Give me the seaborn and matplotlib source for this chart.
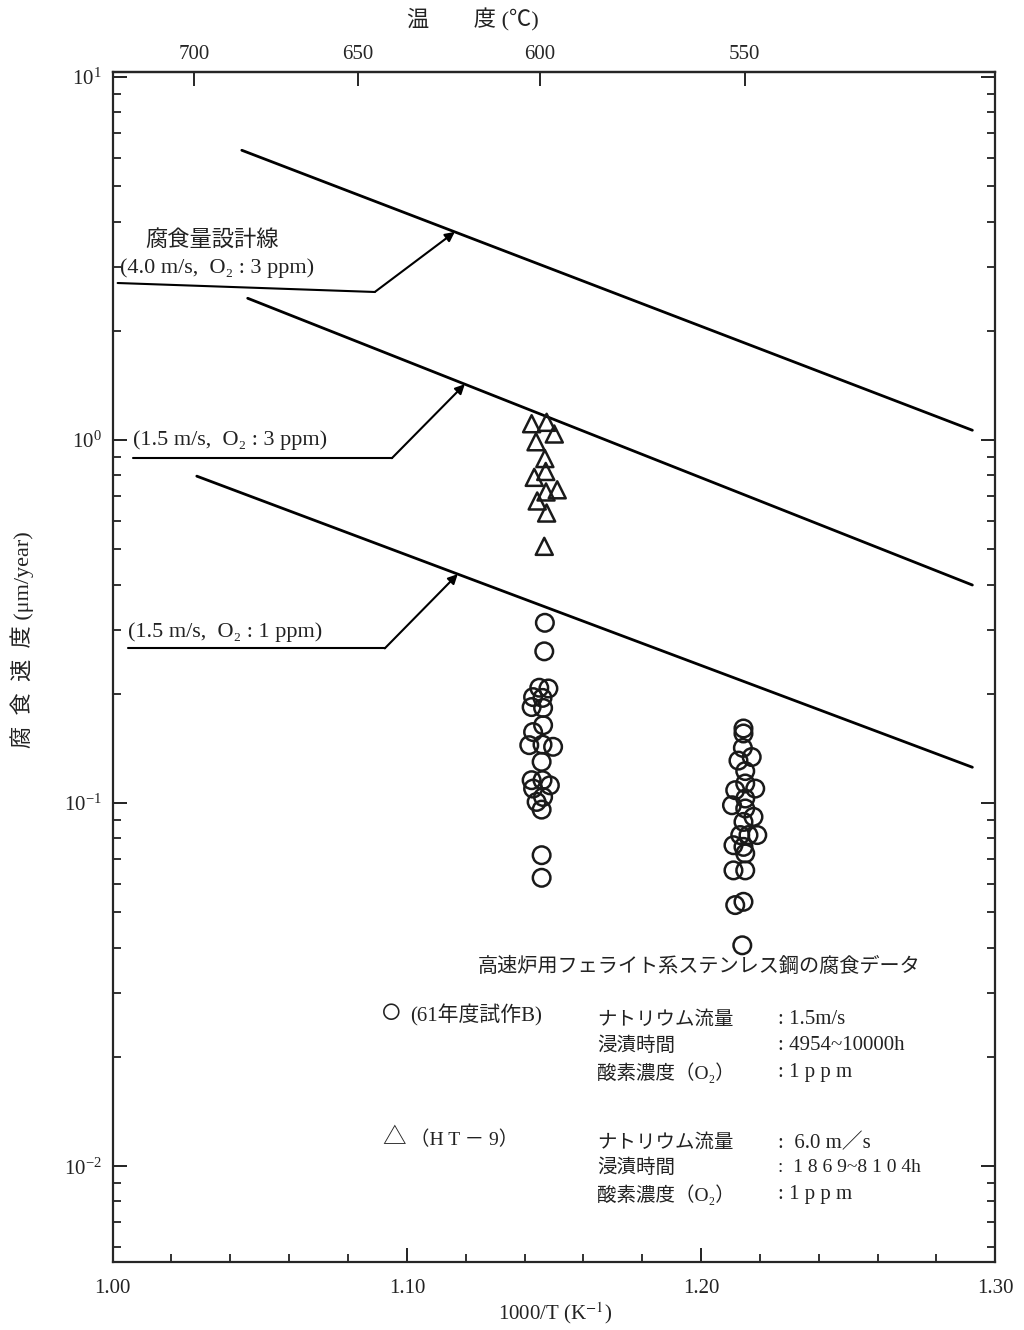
import numpy as np
import pandas as pd
import matplotlib
matplotlib.use("Agg")
import matplotlib.pyplot as plt
from matplotlib.ticker import LogLocator, MultipleLocator, NullFormatter
import seaborn as sns

# --- data ---
# design lines: (1000/T, corrosion rate) at both ends
line_names = ["4.0 m/s, O2 3ppm", "1.5 m/s, O2 3ppm", "1.5 m/s, O2 1ppm"]
line_x = [[1.0439, 1.2922], [1.0459, 1.2922], [1.0286, 1.2922]]
line_y = [[6.29, 1.065], [2.46, 0.399], [0.796, 0.1256]]

# HT-9 (triangles)
tri_x = [1.1424, 1.1475, 1.1501, 1.1439, 1.1469, 1.1472, 1.1433, 1.1473,
         1.1511, 1.1443, 1.1475, 1.1467]
tri_y = [1.11, 1.12, 1.04, 0.99, 0.89, 0.82, 0.79, 0.72, 0.73, 0.68, 0.63, 0.51]

# 61年度試作B (circles), 600C group
c1_x = [1.1469, 1.1467, 1.1450, 1.1481, 1.1429, 1.1461, 1.1424, 1.1463,
        1.1463, 1.1429, 1.1416, 1.1461, 1.1497, 1.1458, 1.1424, 1.1461,
        1.1486, 1.1429, 1.1441, 1.1463, 1.1458, 1.1458, 1.1458]
c1_y = [0.314, 0.262, 0.208, 0.207, 0.196, 0.195, 0.184, 0.183, 0.164, 0.157,
        0.1445, 0.145, 0.143, 0.130, 0.1157, 0.1157, 0.112, 0.1097, 0.1008,
        0.104, 0.096, 0.0719, 0.0623]
# 550C group
c2_x = [1.2144, 1.2144, 1.2142, 1.2127, 1.2172, 1.2150, 1.2150, 1.2116,
        1.2184, 1.2150, 1.2105, 1.2150, 1.2178, 1.2144, 1.2133, 1.2161,
        1.2191, 1.2110, 1.2144, 1.2150, 1.2110, 1.2150, 1.2116, 1.2144,
        1.2140]
c2_y = [0.1606, 0.1556, 0.142, 0.131, 0.134, 0.1226, 0.1133, 0.1086, 0.1097,
        0.103, 0.0987, 0.0967, 0.0917, 0.0888, 0.0817, 0.0817, 0.0817, 0.0766,
        0.0758, 0.0727, 0.0653, 0.0653, 0.0524, 0.0535, 0.0406]

line_labels = [["腐食量設計線", "(4.0 m/s,  O₂ : 3 ppm)"],
               ["(1.5 m/s,  O₂ : 3 ppm)"],
               ["(1.5 m/s,  O₂ : 1 ppm)"]]
temp_ticks = [700, 650, 600, 550]

# --- style ---
sns.set_theme(style="ticks")
plt.rcParams['font.family'] = ['Liberation Serif', 'Noto Sans CJK JP', 'DejaVu Sans']
plt.rcParams['mathtext.fontset'] = 'stix'
plt.rcParams['axes.linewidth'] = 1.6
plt.rcParams['text.color'] = '#222222'

fig = plt.figure(figsize=(10.24, 13.3), dpi=100)
ax = fig.add_axes([0.110, 0.0511, 0.862, 0.8947])
ax.set_yscale('log')

# design lines
for xs, ys in zip(line_x, line_y):
    sns.lineplot(x=xs, y=ys, ax=ax, color='black', linewidth=2.0)

# data points
sns.scatterplot(x=c1_x + c2_x, y=c1_y + c2_y, ax=ax, marker='o', s=160,
                facecolor='none', edgecolor='#1a1a1a', linewidth=1.8, zorder=3)
sns.scatterplot(x=tri_x, y=tri_y, ax=ax, marker='^', s=150,
                facecolor='none', edgecolor='#1a1a1a', linewidth=1.8, zorder=3)

ax.set_xlim(1.00, 1.30)
ax.set_ylim(10 ** -2.264, 10 ** 1.014)

# leader lines from labels to design lines (arrow target sits on each line)
lead_start = [(1.0017, 2.71), (1.0068, 0.892), (1.0051, 0.267)]
lead_bend = [(1.0891, 2.56), (1.0949, 0.892), (1.0925, 0.267)]
lead_tx = [1.1163, 1.1197, 1.1173]
text_pos = [[(1.0337, 3.56, 'center'), (1.0024, 2.98, 'left')],
            [(1.0068, 1.0, 'left')],
            [(1.0051, 0.296, 'left')]]
for i in range(3):
    lx, ly = np.array(line_x[i]), np.log10(line_y[i])
    ty = 10 ** np.interp(lead_tx[i], lx, ly)
    ax.plot([lead_start[i][0], lead_bend[i][0]], [lead_start[i][1], lead_bend[i][1]],
            color='black', linewidth=1.5)
    ax.annotate('', xy=(lead_tx[i], ty), xytext=lead_bend[i],
                arrowprops=dict(arrowstyle='-|>', color='black', lw=1.5,
                                mutation_scale=14, shrinkA=0, shrinkB=0))
    for txt, (px, py, ha) in zip(line_labels[i], text_pos[i]):
        ax.text(px, py, txt, ha=ha, va='center', fontsize=16)

# ticks
ax.xaxis.set_major_locator(MultipleLocator(0.1))
ax.xaxis.set_minor_locator(MultipleLocator(0.02))
ax.xaxis.set_major_formatter(plt.FuncFormatter(lambda v, p: f"{v:.2f}"))
ax.yaxis.set_major_locator(LogLocator(base=10, numticks=10))
ax.yaxis.set_minor_locator(LogLocator(base=10, subs=np.arange(2, 10), numticks=20))
ax.yaxis.set_minor_formatter(NullFormatter())
ax.tick_params(axis='both', which='both', direction='in', top=False, right=True,
               labelsize=15, colors='#222222')
ax.tick_params(axis='both', which='major', length=10, width=1.4, pad=12)
ax.tick_params(axis='both', which='minor', length=6, width=1.3)
ax.tick_params(axis='y', which='major', pad=8)

# top temperature axis
sec = ax.secondary_xaxis('top', functions=(lambda x: 1000 / x - 273.15,
                                           lambda c: 1000 / (c + 273.15)))
sec.set_xticks(temp_ticks)
sec.set_xticklabels([str(t) for t in temp_ticks])
sec.tick_params(direction='in', length=10, width=1.4, labelsize=15, pad=6)
sec.spines['top'].set_linewidth(1.6)
fig.text(0.462, 0.985, "温　　度 (℃)", ha='center', va='center', fontsize=16)

# axis titles
fig.text(0.542, 0.0128, "1000/T (K$^{-1}$)", ha='center', va='center', fontsize=15)
fig.text(0.022, 0.519, "腐  食  速  度 (μm/year)", ha='center', va='center',
         rotation=90, fontsize=16)

# legend block
def ft(x, y, s, size=14):
    fig.text(x / 1024, 1 - y / 1330, s, ha='left', va='center', fontsize=size)

ft(478, 967, "高速炉用フェライト系ステンレス鋼の腐食データ", size=14.5)
ft(380, 1014, "○", size=27)
ft(410, 1015, "(61年度試作B)", size=15)
ft(597, 1020, "ナトリウム流量")
ft(778, 1020, ": 1.5m/s", size=15)
ft(597, 1046, "浸漬時間")
ft(778, 1046, ": 4954~10000h", size=15)
ft(597, 1073, "酸素濃度（O₂）")
ft(778, 1073, ": 1 p p m", size=15)
ft(382, 1139, "△", size=17)
ft(410, 1140, "（H T － 9）", size=14)
ft(597, 1143, "ナトリウム流量")
ft(778, 1143, ":  6.0 m／s", size=15)
ft(597, 1168, "浸漬時間")
ft(778, 1168, ":  1 8 6 9~8 1 0 4h", size=14)
ft(597, 1195, "酸素濃度（O₂）")
ft(778, 1195, ": 1 p p m", size=15)

fig.savefig("out.png", dpi=100, facecolor='white')
